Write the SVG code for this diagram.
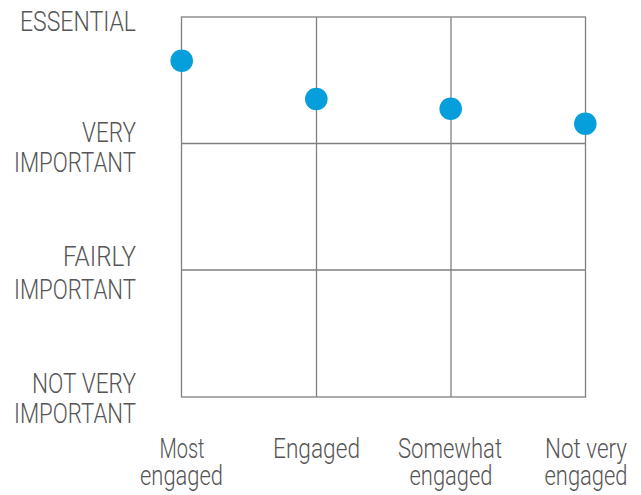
<svg xmlns="http://www.w3.org/2000/svg" width="641" height="495" viewBox="0 0 641 495">
<style>
.grid{stroke:#808080;stroke-width:1.3;fill:none}
.lbl{font-family:Roboto,"Liberation Sans",sans-serif;font-weight:300;font-size:28px;fill:#555555}
.dot{fill:#069fdb}
</style>
<rect width="641" height="495" fill="#ffffff"/>
<g id="connectors">
<rect class="grid" x="181.5" y="17" width="404" height="380"/>
<line class="grid" x1="316.5" y1="17" x2="316.5" y2="397"/>
<line class="grid" x1="451" y1="17" x2="451" y2="397"/>
<line class="grid" x1="181.5" y1="143.5" x2="585.5" y2="143.5"/>
<line class="grid" x1="181.5" y1="270" x2="585.5" y2="270"/>
</g>
<g id="y-labels" class="lbl" text-anchor="end">
<text x="136" y="31" textLength="116" lengthAdjust="spacingAndGlyphs">ESSENTIAL</text>
<text x="136" y="142" textLength="54" lengthAdjust="spacingAndGlyphs">VERY</text>
<text x="136" y="172" textLength="122" lengthAdjust="spacingAndGlyphs">IMPORTANT</text>
<text x="136" y="266" textLength="73" lengthAdjust="spacingAndGlyphs">FAIRLY</text>
<text x="136" y="299" textLength="122" lengthAdjust="spacingAndGlyphs">IMPORTANT</text>
<text x="136" y="393" textLength="104" lengthAdjust="spacingAndGlyphs">NOT VERY</text>
<text x="136" y="423" textLength="122" lengthAdjust="spacingAndGlyphs">IMPORTANT</text>
</g>
<g id="x-labels" class="lbl" text-anchor="middle">
<text x="182" y="458" textLength="45" lengthAdjust="spacingAndGlyphs">Most</text>
<text x="181.5" y="485" textLength="83" lengthAdjust="spacingAndGlyphs">engaged</text>
<text x="316.5" y="458" textLength="87" lengthAdjust="spacingAndGlyphs">Engaged</text>
<text x="450" y="458" textLength="104" lengthAdjust="spacingAndGlyphs">Somewhat</text>
<text x="451" y="485" textLength="83" lengthAdjust="spacingAndGlyphs">engaged</text>
<text x="586" y="458" textLength="82" lengthAdjust="spacingAndGlyphs">Not very</text>
<text x="586" y="485" textLength="83" lengthAdjust="spacingAndGlyphs">engaged</text>
</g>
<g id="dot-most"><circle class="dot" cx="181.7" cy="60.7" r="11.3"/></g>
<g id="dot-engaged"><circle class="dot" cx="316.3" cy="99" r="11.3"/></g>
<g id="dot-somewhat"><circle class="dot" cx="450.7" cy="108.7" r="11.3"/></g>
<g id="dot-notvery"><circle class="dot" cx="585.3" cy="123.7" r="11.3"/></g>
</svg>
